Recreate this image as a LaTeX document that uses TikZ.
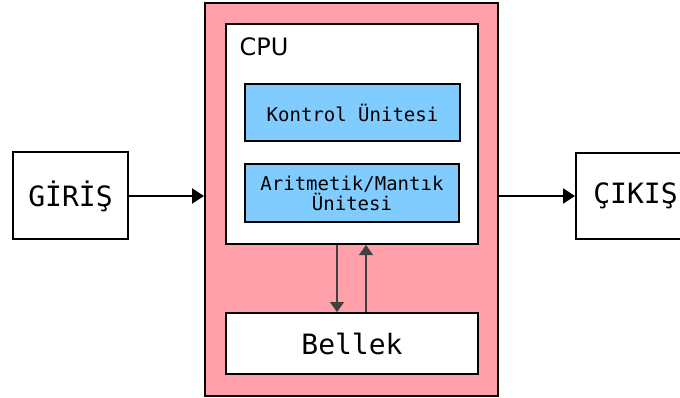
\documentclass[tikz,border=0pt]{standalone}
\usepackage{fontspec}
\setmainfont{DejaVu Sans}
\newfontfamily\monof{DejaVu Sans Mono}
\usetikzlibrary{arrows.meta}
\definecolor{cpupink}{RGB}{255,160,170}
\definecolor{unitblue}{RGB}{128,204,255}
\tikzset{
  box/.style={draw=black, line width=2pt, fill=white, inner sep=0pt, minimum width=#1},
  box/.default=100pt,
  flow/.style={line width=2.2pt, -{Triangle[length=12pt,width=15pt]}},
  bus/.style={line width=1.1pt, draw=black!75, -{Triangle[length=10pt,width=14pt]}},
}
\begin{document}
\begin{tikzpicture}[x=1pt,y=-1pt]
\useasboundingbox (0,0) rectangle (680,398);

% CPU enclosure with its memory
\node[box=293pt, fill=cpupink, minimum height=393pt] (outer) at (351.5,199.5) {};
\node[box=252pt, minimum height=220pt] (cpu) at (352,134) {};
\node[font=\fontsize{24}{28}\selectfont, anchor=west] (cpulbl) at (236,47) {CPU};
\node[box=215pt, fill=unitblue, minimum height=57pt, font=\monof\fontsize{19}{19}\selectfont] (kontrol) at (352.5,112.5) {Kontrol Ünitesi};
\node[box=214pt, fill=unitblue, minimum height=58pt, align=center, font=\monof\fontsize{19}{18}\selectfont] (alu) at (352,193) {Aritmetik/Mantık\\Ünitesi};
\node[box=252pt, minimum height=61pt, font=\monof\fontsize{28}{30}\selectfont] (bellek) at (352,343.5) {Bellek};

% input and output
\node[box=115pt, minimum height=87pt, font=\monof\fontsize{28}{30}\selectfont] (giris) at (70.5,196) {GİRİŞ};
\node[box=119pt, minimum height=86pt, font=\monof\fontsize{28}{30}\selectfont] (cikis) at (635.5,196) {ÇIKIŞ};

\draw[flow] (giris.east) -- (giris.east -| outer.west);
\draw[flow] (outer.east |- cikis.west) -- (cikis.west);

% data bus between CPU and memory
\coordinate (busdown) at (337,0);
\coordinate (busup) at (366,0);
\draw[bus] (cpu.south -| busdown) -- (bellek.north -| busdown);
\draw[bus] (bellek.north -| busup) -- (cpu.south -| busup);
\end{tikzpicture}
\end{document}
